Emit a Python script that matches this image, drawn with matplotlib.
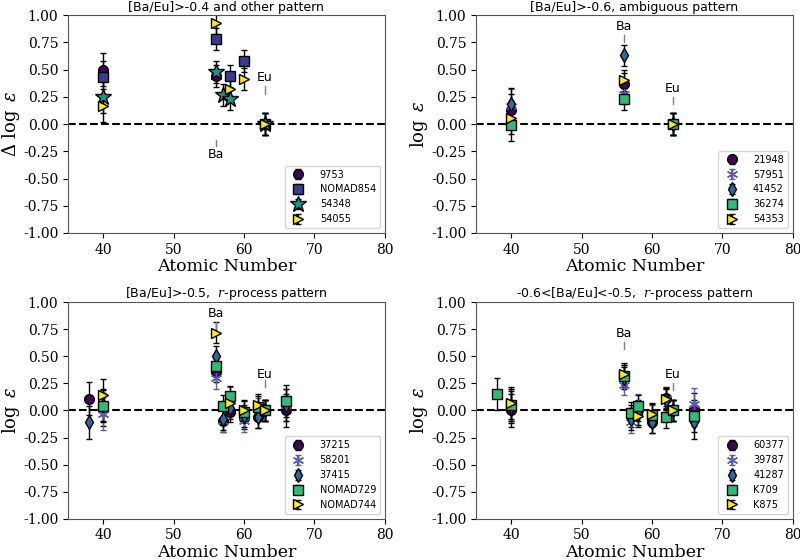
import numpy as np
import matplotlib
matplotlib.use("Agg")
import matplotlib.pyplot as plt

plt.rcParams['mathtext.fontset'] = 'dejavuserif'

nan = np.nan

# Panel A: [Ba/Eu]>-0.4 and other pattern
zA = [40, 56, 57, 58, 60, 63]
errA = [0.15, 0.10, 0.10, 0.10, 0.10, 0.10]
namesA = ['9753', 'NOMAD854', '54348', '54055']
valsA = [
    [0.50, 0.44, nan, nan, nan, 0.00],
    [0.43, 0.78, nan, 0.44, 0.58, 0.00],
    [0.25, 0.48, 0.27, 0.23, nan, 0.00],
    [0.17, 0.93, nan, 0.32, 0.41, 0.00],
]

# Panel B: [Ba/Eu]>-0.6, ambiguous pattern
zB = [40, 56, 63]
errB = [0.15, 0.10, 0.10]
namesB = ['21948', '57951', '41452', '36274', '54353']
valsB = [
    [0.13, 0.37, 0.00],
    [0.17, 0.28, 0.00],
    [0.18, 0.63, 0.00],
    [-0.01, 0.23, 0.00],
    [0.06, 0.40, 0.00],
]

# Panel C: [Ba/Eu]>-0.5, r-process pattern
zC = [38, 40, 56, 57, 58, 60, 62, 63, 66]
errC = [0.15, 0.15, 0.10, 0.10, 0.10, 0.10, 0.10, 0.10, 0.15]
namesC = ['37215', '58201', '37415', 'NOMAD729', 'NOMAD744']
valsC = [
    [0.11, 0.01, 0.36, -0.10, -0.01, -0.07, -0.06, 0.00, 0.00],
    [nan, -0.03, 0.30, -0.10, 0.12, -0.10, 0.02, 0.00, 0.05],
    [-0.11, 0.05, 0.50, -0.08, 0.02, -0.05, -0.06, 0.00, 0.05],
    [nan, 0.04, 0.41, 0.04, 0.13, -0.01, 0.03, 0.00, 0.09],
    [nan, 0.14, 0.72, nan, 0.07, 0.00, 0.05, 0.00, nan],
]

# Panel D: -0.6<[Ba/Eu]<-0.5, r-process pattern
zD = [38, 40, 56, 57, 58, 60, 62, 63, 66]
errD = [0.15, 0.15, 0.10, 0.10, 0.10, 0.10, 0.10, 0.10, 0.15]
namesD = ['60377', '39787', '41287', 'K709', 'K875']
valsD = [
    [nan, 0.00, 0.32, -0.05, 0.00, -0.11, 0.12, 0.00, 0.01],
    [nan, 0.05, 0.24, -0.11, 0.05, -0.05, 0.11, 0.00, 0.06],
    [nan, 0.03, 0.30, -0.08, -0.03, -0.11, 0.10, 0.00, -0.11],
    [0.15, 0.05, 0.32, -0.02, 0.04, -0.04, -0.06, 0.00, -0.05],
    [nan, 0.07, 0.34, nan, -0.05, -0.03, 0.11, 0.00, nan],
]

# marker styles (colour, marker, size, errorbar colour)
style4 = [('#440154', 'o', 7, 'k'), ('#3b3b8c', 's', 7, 'k'),
          ('#21918c', '*', 12, 'k'), ('#fde725', '>', 7, 'k')]
style5 = [('#440154', 'o', 7, 'k'), ('#5b5bb0', (6, 2, 0), 8, '#5b5bb0'),
          ('#2f6b9a', 'd', 7, 'k'), ('#35b779', 's', 7, 'k'),
          ('#fde725', '>', 7, 'k')]

titles = ['[Ba/Eu]>-0.4 and other pattern',
          '[Ba/Eu]>-0.6, ambiguous pattern',
          '[Ba/Eu]>-0.5,  $r$-process pattern',
          '-0.6<[Ba/Eu]<-0.5,  $r$-process pattern']

# label positions: (x, text y, line bottom, line top)
ba_lab = [(56, -0.28, -0.20, -0.15), (56, 0.90, 0.75, 0.82),
          (56, 0.90, 0.75, 0.82), (56, 0.71, 0.57, 0.63)]
eu_lab = [(63, 0.43, 0.28, 0.35), (63, 0.33, 0.18, 0.25),
          (63, 0.33, 0.22, 0.28), (63, 0.33, 0.19, 0.25)]

fig = plt.figure(figsize=(8, 5.6), dpi=100)
pos = [[0.085, 0.584, 0.396, 0.389], [0.595, 0.584, 0.396, 0.389],
       [0.085, 0.074, 0.396, 0.386], [0.595, 0.074, 0.396, 0.386]]

panels = [(zA, errA, namesA, valsA, style4),
          (zB, errB, namesB, valsB, style5),
          (zC, errC, namesC, valsC, style5),
          (zD, errD, namesD, valsD, style5)]

for i, (z, err, names, vals, sty) in enumerate(panels):
    ax = fig.add_axes(pos[i])
    ax.axhline(0, color='k', ls='--', lw=1.5, zorder=1)
    for name, v, (c, m, ms, ec) in zip(names, vals, sty):
        v = np.array(v)
        ok = ~np.isnan(v)
        zz = np.array(z)[ok]
        ax.errorbar(zz, v[ok], yerr=np.array(err)[ok], fmt='none',
                    ecolor=ec, elinewidth=1, capsize=2, zorder=2)
        if m == (6, 2, 0):
            ax.plot(zz, v[ok], ls='none', marker=m, ms=ms,
                    color=c, mew=1, zorder=3)
            ax.errorbar([nan], [nan], yerr=[0.1], ls='none', marker=m, ms=ms,
                        color=c, ecolor=ec, capsize=2, mew=1, label=name)
        else:
            ax.plot(zz, v[ok], ls='none', marker=m, ms=ms,
                    mfc=c, mec='k', mew=1, zorder=3)
            ax.errorbar([nan], [nan], yerr=[0.1], ls='none', marker=m, ms=ms,
                        mfc=c, mec='k', mew=1, ecolor=ec, capsize=2, label=name)
    bx, by, b0, b1 = ba_lab[i]
    ax.text(bx, by, 'Ba', ha='center', va='center', fontsize=9)
    ax.plot([bx, bx], [b0, b1], color='gray', lw=1)
    ex, ey, e0, e1 = eu_lab[i]
    ax.text(ex, ey, 'Eu', ha='center', va='center', fontsize=9)
    ax.plot([ex, ex], [e0, e1], color='gray', lw=1)

    ax.set_xlim(35, 80)
    ax.set_ylim(-1, 1)
    yt = np.arange(-1, 1.01, 0.25)
    ax.set_yticks(yt)
    ax.set_yticklabels(['%.2f' % t for t in yt], family='DejaVu Serif', fontsize=10)
    ax.set_xticks([40, 50, 60, 70, 80])
    ax.set_xticklabels(['40', '50', '60', '70', '80'],
                       family='DejaVu Serif', fontsize=10)
    ax.set_xlabel('Atomic Number', family='DejaVu Serif', fontsize=12.5, labelpad=1)
    if i == 0:
        ax.set_ylabel(r'$\Delta\ \log\ \varepsilon$', fontsize=13, labelpad=1)
    else:
        ax.set_ylabel(r'$\log\ \varepsilon$', fontsize=13, labelpad=1)
    ax.set_title(titles[i], fontsize=9, pad=3)
    for s in ax.spines.values():
        s.set_color('#555555')
    ax.legend(loc='lower right', fontsize=7, handletextpad=1.2)

fig.savefig('out.png', dpi=100)
